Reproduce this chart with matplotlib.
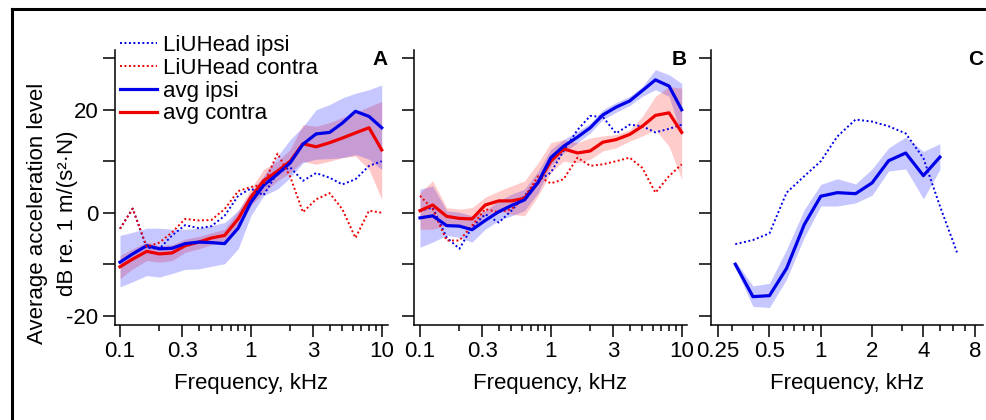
import numpy as np
import matplotlib
matplotlib.use("Agg")
import matplotlib.pyplot as plt
from matplotlib.lines import Line2D
from matplotlib.ticker import FixedLocator, NullFormatter

plt.rcParams['font.family'] = ['Liberation Sans', 'DejaVu Sans']

# third-octave frequencies, kHz
freq_ab = [0.1, 0.125, 0.16, 0.2, 0.25, 0.315, 0.4, 0.5, 0.63, 0.8, 1.0,
           1.25, 1.6, 2.0, 2.5, 3.15, 4.0, 5.0, 6.3, 8.0, 10.0]
freq_c = [0.315, 0.4, 0.5, 0.63, 0.8, 1.0, 1.25, 1.6, 2.0, 2.5, 3.15, 4.0, 5.0]
freq_c_liu = [0.315, 0.4, 0.5, 0.63, 0.8, 1.0, 1.25, 1.6, 2.0, 2.5, 3.15, 4.0, 5.0, 6.3]

# panel A
a_liu_ipsi = [-3.1, 0.8, -6.8, -7.0, -4.4, -2.4, -3.0, -2.6, -0.6, 3.3, 4.7,
              3.4, 7.8, 8.8, 6.2, 7.7, 6.8, 5.5, 6.5, 9.1, 10.0]
a_liu_contra = [-3.1, 0.8, -6.6, -5.8, -3.8, -1.2, -1.5, -1.4, 0.7, 4.2, 5.0,
                5.5, 11.5, 7.0, 0.1, 2.6, 3.8, 0.7, -4.9, 0.4, 0.0]
a_ipsi = [-9.6, -8.0, -6.4, -7.0, -6.9, -6.0, -5.7, -5.8, -6.0, -3.0, 2.0,
          5.3, 7.5, 9.7, 13.3, 15.3, 15.6, 17.4, 19.7, 18.7, 16.5]
a_ipsi_hi = [-4.4, -3.8, -3.0, -3.0, -3.2, -3.2, -3.0, -2.5, -1.9, 0.4, 3.9,
             7.1, 11.0, 14.2, 16.7, 20.0, 21.0, 22.3, 23.2, 23.9, 24.8]
a_ipsi_lo = [-14.4, -13.4, -12.2, -12.5, -11.8, -11.0, -10.9, -10.4, -9.9, -7.0, -0.6,
             3.3, 4.6, 6.8, 9.7, 10.4, 10.5, 10.7, 11.3, 10.4, 8.4]
a_contra = [-10.5, -9.0, -7.5, -8.0, -7.8, -6.4, -5.7, -4.9, -4.4, -1.2, 3.0,
            6.2, 8.1, 10.0, 13.4, 12.8, 13.6, 14.5, 15.5, 16.5, 12.2]
a_contra_hi = [-8.3, -7.0, -5.7, -6.4, -6.2, -5.1, -4.6, -3.9, -3.2, 0.4, 4.6,
               8.4, 10.0, 12.3, 17.1, 16.8, 17.5, 18.5, 19.4, 20.6, 21.6]
a_contra_lo = [-12.8, -10.9, -9.3, -9.6, -9.3, -7.7, -7.0, -6.2, -5.7, -2.5, 1.4,
               3.9, 6.2, 7.8, 10.0, 9.4, 10.0, 10.7, 11.0, 8.4, 2.6]

# panel B
b_liu_ipsi = [0.4, 1.0, -4.8, -7.0, -2.8, -0.3, -1.9, 0.4, 3.3, 6.2, 7.8,
              12.0, 16.1, 18.8, 18.6, 15.4, 17.1, 16.8, 15.6, 16.3, 17.1]
b_liu_contra = [3.3, 0.7, -5.4, -5.4, -2.5, 0.7, 0.1, 0.7, 3.0, 7.1, 5.7,
                6.5, 10.7, 9.1, 9.4, 10.0, 10.7, 8.7, 3.9, 7.1, 9.4]
b_ipsi = [-1.0, -0.6, -2.5, -2.6, -3.3, -1.5, 0.2, 1.4, 2.5, 5.9, 10.7,
          12.9, 14.7, 16.5, 19.0, 20.5, 21.7, 23.7, 25.8, 24.6, 20.0]
b_ipsi_hi = [4.6, 5.2, 0.4, 0.1, -0.6, 0.4, 2.3, 3.6, 4.6, 8.1, 12.3,
             14.2, 15.8, 17.4, 20.0, 21.4, 22.6, 24.5, 27.8, 26.8, 25.1]
b_ipsi_lo = [-6.7, -5.7, -4.4, -4.8, -5.7, -3.2, -1.5, -0.6, 0.4, 3.9, 9.1,
             11.6, 13.6, 15.5, 18.1, 19.5, 20.8, 22.6, 23.9, 22.6, 14.9]
b_contra = [0.4, 1.5, -0.7, -1.1, -1.2, 1.5, 2.3, 2.3, 2.8, 5.9, 10.0,
            12.4, 11.6, 12.0, 13.7, 14.2, 15.2, 16.8, 18.9, 19.4, 15.6]
b_contra_hi = [3.9, 6.2, 1.0, 0.7, 1.0, 3.0, 4.2, 5.2, 6.2, 9.7, 13.6,
               14.2, 13.6, 14.5, 14.9, 15.2, 16.1, 18.7, 22.6, 24.5, 24.2]
b_contra_lo = [-3.2, -3.2, -2.5, -2.8, -3.2, -0.6, 0.4, -0.3, -0.6, 3.3, 7.8,
               10.0, 9.7, 10.4, 12.0, 12.6, 13.9, 14.9, 16.1, 12.9, 6.5]

# panel C
c_liu_ipsi = [-6.1, -5.3, -4.0, 3.9, 7.1, 10.0, 14.8, 18.1, 17.7, 16.8, 15.4, 10.6, 1.3, -7.7]
c_ipsi = [-10.0, -16.3, -16.1, -10.8, -2.3, 3.2, 3.9, 3.7, 5.8, 10.1, 11.6, 7.2, 10.8]
c_ipsi_hi = [-9.4, -14.2, -13.7, -7.1, 0.6, 5.5, 6.6, 5.6, 8.5, 12.6, 14.7, 11.9, 13.4]
c_ipsi_lo = [-10.6, -18.2, -18.4, -12.9, -4.8, 1.3, 1.3, 1.9, 3.4, 8.1, 8.5, 2.7, 8.4]

BLUE = '#0000e8'
RED = '#ee0000'
DOT = (0, (1, 1.3))
FS = 16

fig = plt.figure(figsize=(9.87, 4.2), dpi=100)
W, H = 987, 420


def make_ax(left, right):
    return fig.add_axes([left / W, 1 - 325 / H, (right - left) / W, 275 / H])


axA = make_ax(115, 388)
axB = make_ax(414, 687)
axC = make_ax(710.7, 983)

# A: red underneath the blue band
axA.fill_between(freq_ab, a_contra_lo, a_contra_hi, color='red', alpha=0.22, lw=0)
axA.plot(freq_ab, a_contra, color=RED, lw=2.3, label='avg contra')
axA.fill_between(freq_ab, a_ipsi_lo, a_ipsi_hi, color='blue', alpha=0.22, lw=0)
axA.plot(freq_ab, a_ipsi, color=BLUE, lw=2.3, label='avg ipsi')
axA.plot(freq_ab, a_liu_ipsi, color=BLUE, lw=1.4, ls=DOT, label='LiUHead ipsi')
axA.plot(freq_ab, a_liu_contra, color=RED, lw=1.4, ls=DOT, label='LiUHead contra')

# B
axB.fill_between(freq_ab, b_ipsi_lo, b_ipsi_hi, color='blue', alpha=0.22, lw=0)
axB.fill_between(freq_ab, b_contra_lo, b_contra_hi, color='red', alpha=0.2, lw=0)
axB.plot(freq_ab, b_liu_ipsi, color=BLUE, lw=1.4, ls=DOT)
axB.plot(freq_ab, b_liu_contra, color=RED, lw=1.4, ls=DOT)
axB.plot(freq_ab, b_contra, color=RED, lw=2.3)
axB.plot(freq_ab, b_ipsi, color=BLUE, lw=2.3)

# C
axC.fill_between(freq_c, c_ipsi_lo, c_ipsi_hi, color='blue', alpha=0.22, lw=0)
axC.plot(freq_c_liu, c_liu_ipsi, color=BLUE, lw=1.4, ls=DOT)
axC.plot(freq_c, c_ipsi, color=BLUE, lw=2.3)

for ax, letter in [(axA, 'A'), (axB, 'B'), (axC, 'C')]:
    ax.set_xscale('log')
    ax.set_ylim(-21.8, 31.6)
    ax.spines['top'].set_visible(False)
    ax.spines['right'].set_visible(False)
    for s in ('left', 'bottom'):
        ax.spines[s].set_linewidth(1.1)
    ax.set_yticks([-20, -10, 0, 10, 20, 30])
    ax.set_yticklabels(['-20', '', '0', '', '20', ''] if ax is axA else [''] * 6)
    ax.tick_params(axis='y', which='major', length=9, width=1.1, pad=3, labelsize=FS)
    ax.tick_params(axis='x', which='major', length=8.5, width=1.1, pad=3, labelsize=FS)
    ax.tick_params(axis='x', which='minor', length=4.5, width=1.1)
    ax.set_xlabel('Frequency, kHz', fontsize=FS, labelpad=8)
    ax.text(1.0, 0.964, letter, transform=ax.transAxes, ha='right', va='center',
            fontsize=15, fontweight='bold')

for ax, lims in [(axA, (0.0916, 11.17)), (axB, (0.09, 10.98))]:
    ax.set_xlim(*lims)
    ax.xaxis.set_major_locator(FixedLocator([0.1, 0.3, 1, 3, 10]))
    ax.set_xticklabels(['0.1', '0.3', '1', '3', '10'])
    ax.xaxis.set_minor_locator(FixedLocator([0.2, 0.4, 0.5, 0.6, 0.7, 0.8, 0.9,
                                             2, 4, 5, 6, 7, 8, 9]))
    ax.xaxis.set_minor_formatter(NullFormatter())

axC.set_xlim(0.226, 8.95)
axC.xaxis.set_major_locator(FixedLocator([0.25, 0.5, 1, 2, 4, 8]))
axC.set_xticklabels(['0.25', '0.5', '1', '2', '4', '8'])
axC.xaxis.set_minor_locator(FixedLocator([0.3, 0.4, 0.6, 0.7, 0.8, 0.9, 3, 5, 6, 7]))
axC.xaxis.set_minor_formatter(NullFormatter())

handles, labels = axA.get_legend_handles_labels()
order = [2, 3, 1, 0]
axA.legend([handles[i] for i in order], [labels[i] for i in order],
           loc='upper left', bbox_to_anchor=(120 / W, 1 - 35 / H),
           bbox_transform=fig.transFigure, frameon=False, fontsize=FS,
           handlelength=1.67, handletextpad=0.27, labelspacing=0.08,
           borderpad=0, borderaxespad=0)

fig.text(38 / W, 1 - 213 / H, 'Average acceleration level', rotation=90,
         ha='center', va='center', fontsize=FS)
fig.text(68 / W, 1 - 213 / H, 'dB re. 1 m/(s²·N)', rotation=90,
         ha='center', va='center', fontsize=FS)

# outer frame (left and top edges)
fig.add_artist(Line2D([11.5 / W, 11.5 / W], [0, 1 - 8.5 / H], color='black', lw=2.2,
                      transform=fig.transFigure))
fig.add_artist(Line2D([11.5 / W, 1], [1 - 8.5 / H, 1 - 8.5 / H], color='black', lw=2.2,
                      transform=fig.transFigure))

fig.savefig('out.png', dpi=100)
